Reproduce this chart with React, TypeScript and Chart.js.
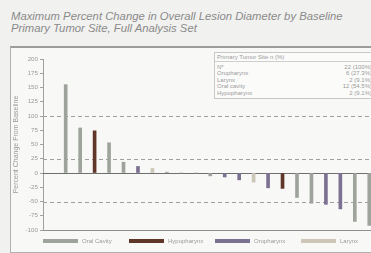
import React, { useEffect, useRef } from 'react';
import { Chart, registerables } from 'chart.js';
Chart.register(...registerables);

// ---- data ----
const titleLines = [
  'Maximum Percent Change in Overall Lesion Diameter by Baseline',
  'Primary Tumor Site, Full Analysis Set',
];
const yAxisTitle = 'Percent Change From Baseline';
const patientIds = ['1','2','3','4','5','6','7','8','9','10','11','12','13','14','15','16','17','18','19','20','21','22'];
const patientSite = [
  'Oral Cavity','Oral Cavity','Hypopharynx','Oral Cavity','Oral Cavity','Oropharynx','Larynx','Oral Cavity',
  'Oral Cavity','Oral Cavity','Oral Cavity','Oropharynx','Oropharynx','Larynx','Oropharynx','Hypopharynx',
  'Oral Cavity','Oral Cavity','Oropharynx','Oropharynx','Oral Cavity','Oral Cavity',
];
const pctChange = [155, 79, 74, 53, 19, 11.5, 8, 1.5, 0, 0, -5, -7, -12, -16, -26, -27, -43, -53, -55, -63, -85, -92];
const legendSites = ['Oral Cavity', 'Hypopharynx', 'Oropharynx', 'Larynx'];
const siteColors = ['#9ea49b', '#603628', '#7d7192', '#cdc7b8'];
const yMin = -100;
const yMax = 200;
const yStep = 25;
const refLines = [100, 25, -50];
const tableHeader = 'Primary Tumor Site n (%)';
const tableSites = ['N*', 'Oropharynx', 'Larynx', 'Oral cavity', 'Hypopharynx'];
const tableCounts = ['22 (100%)', '6 (27.3%)', '2 (9.1%)', '12 (54.5%)', '2 (9.1%)'];

const FONT = '"Liberation Sans", Arial, sans-serif';
const TEXT_GRAY = '#9a9a9a';

const refLinePlugin = {
  id: 'refLines',
  beforeDatasetsDraw(chart: any) {
    const { ctx, chartArea, scales } = chart;
    const y = scales.y;
    ctx.save();
    ctx.lineWidth = 1;
    ctx.strokeStyle = '#a0a0a0';
    ctx.setLineDash([4, 3]);
    refLines.forEach((v) => {
      const py = Math.round(y.getPixelForValue(v)) + 0.5;
      ctx.beginPath();
      ctx.moveTo(chartArea.left, py);
      ctx.lineTo(chartArea.right, py);
      ctx.stroke();
    });
    ctx.setLineDash([]);
    ctx.strokeStyle = '#6f6f6f';
    const z = Math.round(y.getPixelForValue(0)) + 0.5;
    ctx.beginPath();
    ctx.moveTo(chartArea.left, z);
    ctx.lineTo(chartArea.right, z);
    ctx.stroke();
    ctx.restore();
  },
};

export default function App() {
  const ref = useRef<HTMLCanvasElement>(null);

  useEffect(() => {
    if (!ref.current) return;
    const datasets = legendSites.map((site, si) => ({
      label: site,
      data: patientIds
        .map((id, i) => (patientSite[i] === site ? { x: Number(id), y: pctChange[i] } : null))
        .filter((d) => d !== null),
      backgroundColor: siteColors[si],
      borderWidth: 0,
      barThickness: 3,
      grouped: false,
    }));
    const chart = new Chart(ref.current, {
      type: 'bar',
      data: { datasets: datasets as any },
      options: {
        animation: false,
        responsive: false,
        layout: { padding: { left: 9, right: 0, top: 59, bottom: 23 } },
        plugins: { legend: { display: false }, tooltip: { enabled: false } },
        scales: {
          x: {
            type: 'linear',
            min: -0.57,
            max: 22.12,
            offset: false,
            ticks: { display: false },
            grid: { display: false, drawTicks: false },
            border: { display: true, color: '#8f8f8f' },
          },
          y: {
            min: yMin,
            max: yMax,
            ticks: { stepSize: yStep, color: TEXT_GRAY, font: { size: 6.2, family: FONT }, padding: 2 },
            grid: { drawOnChartArea: false, drawTicks: true, tickLength: 3, color: '#a0a0a0' },
            border: { display: true, color: '#a0a0a0' },
            title: { display: true, text: yAxisTitle, color: TEXT_GRAY, font: { size: 7, family: FONT }, padding: { top: 3, bottom: 0 } },
            afterFit: (s: any) => { s.width = 34; },
          },
        },
      },
      plugins: [refLinePlugin],
    });
    return () => chart.destroy();
  }, []);

  return (
    <div style={{ position: 'fixed', left: 0, top: 0, width: 371, height: 253, overflow: 'hidden', background: '#f1f1ef', fontFamily: FONT }}>
      <div style={{ position: 'absolute', left: 11, top: 10, color: '#8a8a8a', fontStyle: 'italic', fontSize: 11.3, lineHeight: '12.3px', whiteSpace: 'nowrap' }}>
        {titleLines.map((t) => <div key={t}>{t}</div>)}
      </div>
      <div style={{ position: 'absolute', left: 10, top: 46, width: 400, height: 204, border: '1px solid #b0b0b0', borderTop: '2px solid #9c9c9c', background: '#f8f8f7' }} />
      <canvas ref={ref} width={371} height={253} style={{ position: 'absolute', left: 0, top: 0 }} />
      <div style={{ position: 'absolute', left: 214, top: 51.7, width: 170, border: '1px solid #c8c8c8', background: '#fbfbfa', color: TEXT_GRAY, fontSize: 6 }}>
        <div style={{ height: 8, lineHeight: '8px', paddingLeft: 2, borderBottom: '1px solid #cfcfcf', whiteSpace: 'nowrap' }}>{tableHeader}</div>
        <div style={{ paddingTop: 2, paddingBottom: 2 }}>
          {tableSites.map((s, i) => (
            <div key={s} style={{ display: 'flex', justifyContent: 'space-between', height: 6.5, lineHeight: '6.5px', paddingLeft: 2, width: 155 }}>
              <span>{s}</span>
              <span>{tableCounts[i]}</span>
            </div>
          ))}
        </div>
      </div>
      <div style={{ position: 'absolute', left: 43, top: 237, display: 'flex', color: TEXT_GRAY, fontSize: 6 }}>
        {legendSites.map((s, i) => (
          <div key={s} style={{ width: 86, display: 'flex', alignItems: 'center', height: 8 }}>
            <span style={{ display: 'inline-block', width: 35, height: 3.5, background: siteColors[i], marginRight: 4 }} />
            <span style={{ whiteSpace: 'nowrap' }}>{s}</span>
          </div>
        ))}
      </div>
    </div>
  );
}
